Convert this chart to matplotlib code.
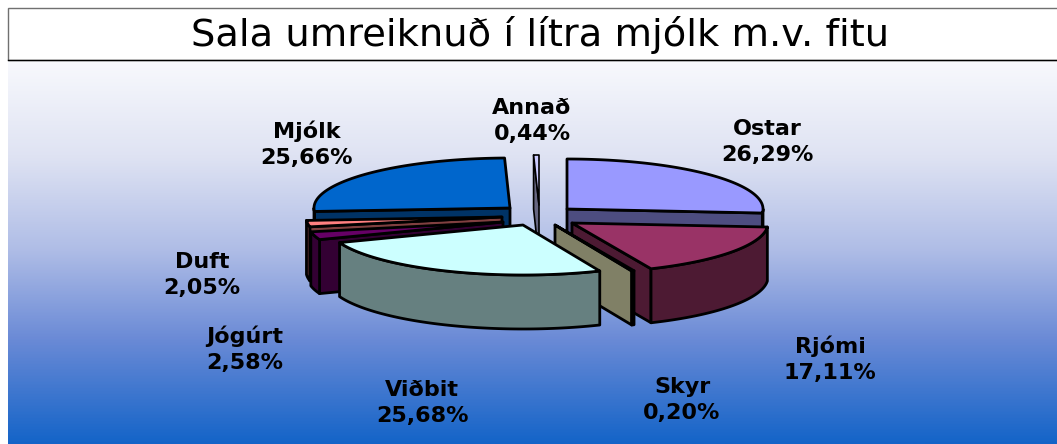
"""Sala umreiknuð í lítra mjólk: þrívíddar skífurit með útdregnum sneiðum."""

from __future__ import annotations

import matplotlib
import numpy as np

matplotlib.use("Agg")
import matplotlib.pyplot as plt
from matplotlib.colors import LinearSegmentedColormap
from matplotlib.patches import Polygon, Rectangle

TITLE = "Sala umreiknuð í lítra mjólk m.v. fitu"

CATEGORIES = ["Ostar", "Rjómi", "Skyr", "Viðbit", "Jógúrt", "Duft", "Mjólk", "Annað"]
SHARES = [26.29, 17.11, 0.20, 25.68, 2.58, 2.05, 25.66, 0.44]
TOP_COLORS = ["#9999FF", "#993366", "#FFFFCC", "#CCFFFF", "#660066", "#FF8080", "#0066CC", "#CCCCFF"]
SIDE_COLORS = ["#4D4D80", "#4D1A33", "#808066", "#668080", "#330033", "#804040", "#003366", "#666680"]

# apex of each exploded slice, in image pixels
APEX_X = [567, 572, 555, 523, 503, 502, 510, 539]
APEX_Y = [209, 223, 225, 225, 222, 217, 208, 205]
LABEL_X = [767, 830, 682, 422, 245, 202, 307, 532]
LABEL_Y = [142, 359, 400, 403, 349, 275, 144, 121]

RADIUS_X = 196.0
RADIUS_Y = 50.0
DEPTH = 54.0
# back-to-front painting order
DRAW_ORDER = [6, 7, 0, 5, 4, 1, 2, 3]

BACKGROUND_STOPS = [
    (0.0, "#F8F9FD"),
    (0.25, "#DFE3F3"),
    (0.5, "#AEBCE6"),
    (0.73, "#6A8AD6"),
    (1.0, "#1464C8"),
]


def _rim(apex: tuple[float, float], angles: np.ndarray) -> np.ndarray:
    """Точки внешней дуги; угол считается по часовой стрелке от вершины круга."""
    x = apex[0] + RADIUS_X * np.sin(angles)
    y = apex[1] - RADIUS_Y * np.cos(angles)
    return np.column_stack([x, y])


def _add_face(ax, points: np.ndarray, color: str, linewidth: float = 2.0) -> None:
    ax.add_patch(Polygon(points, closed=True, facecolor=color, edgecolor="black", linewidth=linewidth, joinstyle="round"))


def _draw_slice(ax, index: int, start: float, stop: float) -> None:
    apex = (float(APEX_X[index]), float(APEX_Y[index]))
    down = np.array([0.0, DEPTH])
    side = SIDE_COLORS[index]
    apex_point = np.array(apex)
    # the thinnest slices would turn solid black with the full outline
    linewidth = 1.2 if SHARES[index] < 1.0 and index != 2 else 2.0

    # radial faces turned towards the viewer
    for angle, visible in ((start, np.sin(start) < 0), (stop, np.sin(stop) > 0)):
        if visible:
            edge = _rim(apex, np.array([angle]))[0]
            _add_face(ax, np.array([apex_point, edge, edge + down, apex_point + down]), side, linewidth)

    # front part of the outer wall
    low = max(start, np.pi / 2)
    high = min(stop, 3 * np.pi / 2)
    if high > low:
        arc = _rim(apex, np.linspace(low, high, 80))
        _add_face(ax, np.vstack([arc, arc[::-1] + down]), side, linewidth)

    rim = _rim(apex, np.linspace(start, stop, 120))
    _add_face(ax, np.vstack([apex_point, rim]), TOP_COLORS[index], linewidth)


def main() -> int:
    fig = plt.figure(figsize=(10.57, 4.44), dpi=100)
    ax = fig.add_axes([0, 0, 1, 1])
    ax.set_xlim(0, 1057)
    ax.set_ylim(444, 0)
    ax.axis("off")

    cmap = LinearSegmentedColormap.from_list("panel", BACKGROUND_STOPS)
    gradient = np.linspace(0, 1, 384).reshape(-1, 1)
    ax.imshow(gradient, cmap=cmap, extent=(8, 1057, 444, 60), aspect="auto", zorder=0)
    ax.set_xlim(0, 1057)
    ax.set_ylim(444, 0)

    ax.add_patch(Rectangle((8, 8), 1060, 52, facecolor="white", edgecolor="#707070", linewidth=1.0, zorder=1))
    ax.plot([8, 1057], [60, 60], color="black", linewidth=1.0, zorder=2)
    ax.text(540, 35, TITLE, ha="center", va="center", fontsize=27.6, color="black", family="DejaVu Sans", zorder=2)

    shares = np.asarray(SHARES, dtype=float)
    edges = np.concatenate([[0.0], np.cumsum(shares)]) / shares.sum() * 2 * np.pi
    for index in DRAW_ORDER:
        _draw_slice(ax, index, edges[index], edges[index + 1])

    for name, share, x, y in zip(CATEGORIES, SHARES, LABEL_X, LABEL_Y):
        label = f"{name}\n{share:.2f}%".replace(".", ",")
        ax.text(x, y, label, ha="center", va="center", fontsize=16, fontweight="bold", color="black", linespacing=1.4)

    fig.savefig("out.png", dpi=100)
    plt.close(fig)
    return 0


if __name__ == "__main__":
    raise SystemExit(main())
